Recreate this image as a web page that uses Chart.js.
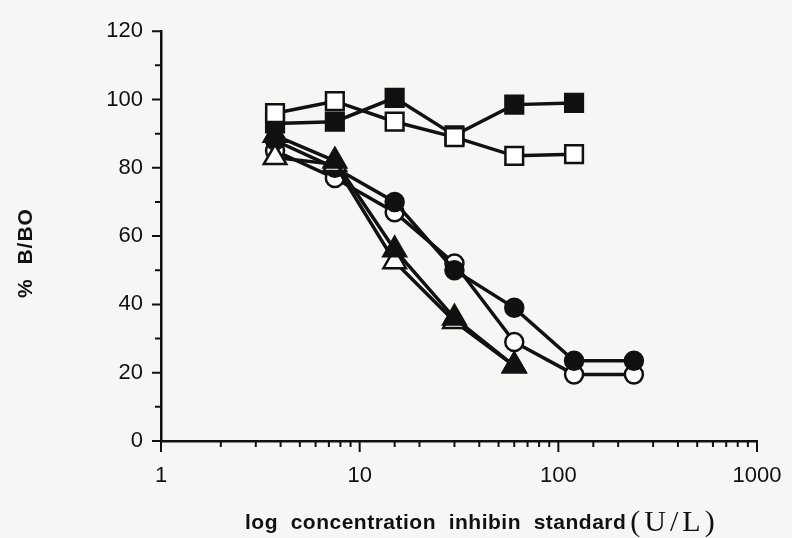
<!DOCTYPE html>
<html>
<head>
<meta charset="utf-8">
<script src="https://cdn.jsdelivr.net/npm/chart.js@4.4.1/dist/chart.umd.min.js"></script>
<style>
  html, body { margin: 0; padding: 0; background: #f6f6f4; }
  #wrap { width: 792px; height: 538px; }
</style>
</head>
<body>
<div id="wrap"><canvas id="chart" width="792" height="538"></canvas></div>
<script>
// concentrations (U/L), doubling dilutions
const doses = [3.75, 7.5, 15, 30, 60, 120, 240];

// % B/BO for each curve
const filledSquare   = [93, 93.5, 100.5, 89.5, 98.5, 99];
const openSquare     = [96, 99.5, 93.5, 89, 83.5, 84];
const filledTriangle = [89.5, 82, 56, 36, 22];
const openTriangle   = [83, 81, 52.5, 35, 22];
const filledCircle   = [88, 80, 70, 50, 39, 23.5, 23.5];
const openCircle     = [85, 77, 67, 52, 29, 19.5, 19.5];

const xTickLabels = [1, 10, 100, 1000];
const yTickLabels = [0, 20, 40, 60, 80, 100, 120];

const INK = '#111';
const PAPER = '#f6f6f4';

function pts(vals) {
  return vals.map((v, i) => ({ x: doses[i], y: v }));
}

function series(label, vals, style, radius, filled) {
  return {
    label: label,
    data: pts(vals),
    showLine: true,
    borderColor: INK,
    borderWidth: 3.5,
    pointStyle: style,
    pointRadius: radius,
    pointBorderWidth: 2.5,
    pointBorderColor: INK,
    pointBackgroundColor: filled ? INK : '#fff'
  };
}

// tick marks + axis titles
const axisDecor = {
  id: 'axisDecor',
  beforeDraw(chart) {
    const ctx = chart.ctx;
    ctx.save();
    ctx.fillStyle = PAPER;
    ctx.fillRect(0, 0, chart.width, chart.height);
    ctx.restore();
  },
  afterDraw(chart) {
    const ctx = chart.ctx;
    const xs = chart.scales.x, ys = chart.scales.y;
    const a = chart.chartArea;
    ctx.save();
    ctx.strokeStyle = INK;
    ctx.lineWidth = 2;
    ctx.beginPath();
    xs.ticks.forEach(t => {
      const px = xs.getPixelForValue(t.value);
      const major = xTickLabels.includes(t.value);
      ctx.moveTo(px, a.bottom);
      ctx.lineTo(px, a.bottom + (major ? 11 : 6));
    });
    ys.ticks.forEach(t => {
      const py = ys.getPixelForValue(t.value);
      const major = yTickLabels.includes(t.value);
      ctx.moveTo(a.left, py);
      ctx.lineTo(a.left - (major ? 9 : 6), py);
    });
    ctx.stroke();

    ctx.fillStyle = INK;
    // y title
    ctx.save();
    ctx.translate(26, 253);
    ctx.rotate(-Math.PI / 2);
    ctx.font = 'bold 21px "Liberation Sans", Arial, sans-serif';
    ctx.letterSpacing = '1px';
    ctx.textAlign = 'center';
    ctx.textBaseline = 'middle';
    ctx.fillText('%  B/BO', 0, 0);
    ctx.restore();

    // x title: bold sans part + serif unit
    ctx.textBaseline = 'alphabetic';
    ctx.textAlign = 'left';
    ctx.font = 'bold 21px "Liberation Sans", Arial, sans-serif';
    ctx.letterSpacing = '0.5px';
    const main = 'log  concentration  inhibin  standard';
    ctx.fillText(main, 245, 529);
    const w = ctx.measureText(main).width;
    ctx.font = '30px "Liberation Serif", "Times New Roman", serif';
    ctx.letterSpacing = '4px';
    ctx.fillText('(U/L)', 245 + w + 4, 531);
    ctx.restore();
  }
};

new Chart(document.getElementById('chart').getContext('2d'), {
  type: 'scatter',
  data: {
    datasets: [
      series('open square', openSquare, 'rect', 12.5, false),
      series('filled square', filledSquare, 'rect', 12.5, true),
      series('filled triangle', filledTriangle, 'triangle', 13, true),
      series('open triangle', openTriangle, 'triangle', 13, false),
      series('filled circle', filledCircle, 'circle', 9, true),
      series('open circle', openCircle, 'circle', 9, false)
    ]
  },
  options: {
    responsive: false,
    animation: false,
    clip: false,
    layout: { padding: { top: 18, right: 35, left: 0, bottom: 0 } },
    plugins: { legend: { display: false }, tooltip: { enabled: false } },
    scales: {
      x: {
        type: 'logarithmic',
        min: 1,
        max: 1000,
        afterFit: s => { s.height = 97; s.paddingRight = 0; s.paddingLeft = 0; },
        grid: { display: false, drawTicks: false },
        border: { display: true, color: INK, width: 2.5 },
        ticks: {
          autoSkip: false,
          maxRotation: 0,
          padding: 22,
          color: INK,
          font: { family: '"Liberation Sans", Arial, sans-serif', size: 22 },
          callback: v => xTickLabels.includes(v) ? String(v) : ''
        }
      },
      y: {
        min: 0,
        max: 120,
        afterFit: s => { s.width = 161; },
        grid: { display: false, drawTicks: false },
        border: { display: true, color: INK, width: 2.5 },
        ticks: {
          stepSize: 10,
          padding: 18,
          color: INK,
          font: { family: '"Liberation Sans", Arial, sans-serif', size: 22 },
          callback: v => yTickLabels.includes(v) ? String(v) : ''
        }
      }
    }
  },
  plugins: [axisDecor]
});
</script>
</body>
</html>
